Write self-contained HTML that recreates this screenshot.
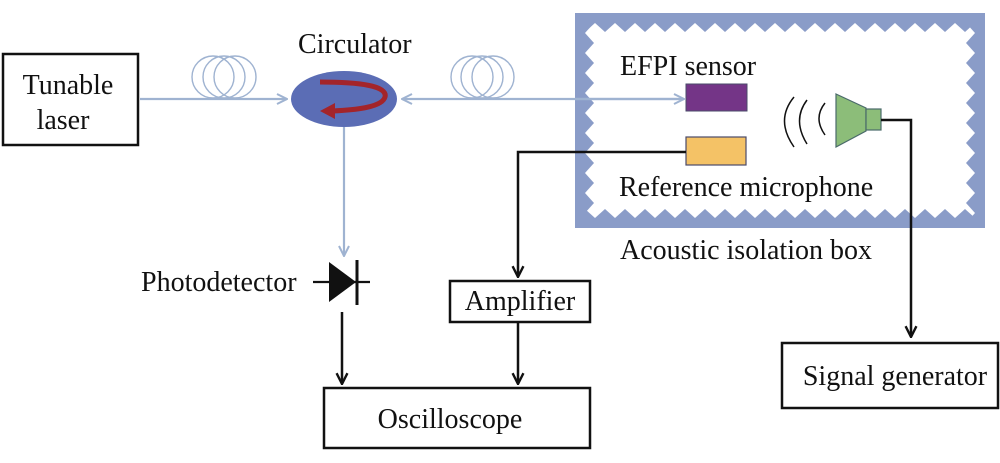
<!DOCTYPE html>
<html><head><meta charset="utf-8"><style>
html,body{margin:0;padding:0;background:#fff;}
svg{display:block;}
text{font-family:"Liberation Serif",serif;fill:#111;}
</style></head><body>
<svg width="1000" height="463" viewBox="0 0 1000 463" xmlns="http://www.w3.org/2000/svg">
<defs>
<pattern id="pt" x="575" y="23" width="20" height="9" patternUnits="userSpaceOnUse"><polygon points="0,0 20,0 10,9" fill="#8a9cc8"/></pattern>
<pattern id="pb" x="575" y="209" width="20" height="9" patternUnits="userSpaceOnUse"><polygon points="0,9 20,9 10,0" fill="#8a9cc8"/></pattern>
<pattern id="pl" x="585" y="13" width="9" height="20" patternUnits="userSpaceOnUse"><polygon points="0,0 0,20 9,10" fill="#8a9cc8"/></pattern>
<pattern id="pr" x="966" y="13" width="9" height="20" patternUnits="userSpaceOnUse"><polygon points="9,0 9,20 0,10" fill="#8a9cc8"/></pattern>
<marker id="ab" viewBox="0 0 12 12" refX="11" refY="6" markerWidth="12" markerHeight="12" markerUnits="userSpaceOnUse" orient="auto"><path d="M1,1 L11,6 L1,11" fill="none" stroke="#9fb3d1" stroke-width="2"/></marker>
<marker id="ak" viewBox="0 0 12 12" refX="11" refY="6" markerWidth="13" markerHeight="13" markerUnits="userSpaceOnUse" orient="auto"><path d="M1,1 L11,6 L1,11" fill="none" stroke="#111" stroke-width="2.2"/></marker>
</defs>

<rect x="575" y="13" width="410" height="215" fill="#8a9cc8"/>
<rect x="585" y="23" width="390" height="195" fill="#fff"/>
<rect x="585" y="23" width="390" height="9" fill="url(#pt)"/>
<rect x="585" y="209" width="390" height="9" fill="url(#pb)"/>
<rect x="585" y="23" width="9" height="195" fill="url(#pl)"/>
<rect x="966" y="23" width="9" height="195" fill="url(#pr)"/>

<rect x="3" y="54" width="135" height="91" fill="none" stroke="#111" stroke-width="2.5"/>
<text x="68" y="94" font-size="28" text-anchor="middle">Tunable</text>
<text x="63" y="129" font-size="28" text-anchor="middle">laser</text>

<line x1="140" y1="99" x2="287" y2="99" stroke="#9fb3d1" stroke-width="2.2" marker-end="url(#ab)"/>
<line x1="683" y1="99" x2="402" y2="99" stroke="#9fb3d1" stroke-width="2.2" marker-end="url(#ab)"/>
<line x1="575" y1="99" x2="684" y2="99" stroke="#9fb3d1" stroke-width="2.2" marker-end="url(#ab)"/>
<line x1="344" y1="127" x2="344" y2="256" stroke="#9fb3d1" stroke-width="2.2" marker-end="url(#ab)"/>

<g fill="none" stroke="#9fb3d1" stroke-width="1.4">
<ellipse cx="213" cy="77" rx="21" ry="21"/><ellipse cx="224" cy="77" rx="21" ry="21"/><ellipse cx="235" cy="77" rx="21" ry="21"/>
<ellipse cx="472" cy="77" rx="21" ry="21"/><ellipse cx="482" cy="77" rx="21" ry="21"/><ellipse cx="493" cy="77" rx="21" ry="21"/>
</g>

<text x="298" y="53" font-size="28">Circulator</text>
<ellipse cx="344" cy="99" rx="53" ry="28" fill="#5b6db5"/>
<path d="M320,82 C360,82 388,86 385,97 C382,108 352,110 333,111" fill="none" stroke="#a3242a" stroke-width="5"/>
<polygon points="320,111 335,103 335,119" fill="#a3242a"/>

<text x="620" y="75" font-size="28">EFPI sensor</text>
<rect x="686" y="84" width="61" height="27" fill="#743587" stroke="#4a4a6a" stroke-width="1"/>
<rect x="686" y="137" width="60" height="28" fill="#f4c266" stroke="#4a4a6a" stroke-width="1.2"/>
<text x="619" y="196" font-size="28">Reference microphone</text>
<text x="620" y="259" font-size="28">Acoustic isolation box</text>

<g fill="none" stroke="#111" stroke-width="1.5">
<path d="M794,97 Q775,120 794,147"/>
<path d="M807,100 Q792,120 807,144"/>
<path d="M825,103 Q813,118 825,135"/>
</g>
<polygon points="836,94 866,108 866,131 836,147" fill="#8cbd79" stroke="#4a6a6a" stroke-width="1.2"/>
<rect x="866" y="109" width="15" height="21" fill="#8cbd79" stroke="#4a6a6a" stroke-width="1.2"/>

<polyline points="686,152 518,152 518,277" fill="none" stroke="#111" stroke-width="2.5" marker-end="url(#ak)"/>
<polyline points="881,120 911,120 911,337" fill="none" stroke="#111" stroke-width="2.5" marker-end="url(#ak)"/>
<line x1="518" y1="322" x2="518" y2="384" stroke="#111" stroke-width="2.5" marker-end="url(#ak)"/>
<line x1="342" y1="312" x2="342" y2="384" stroke="#111" stroke-width="2.5" marker-end="url(#ak)"/>

<text x="141" y="291" font-size="28">Photodetector</text>
<line x1="313" y1="282" x2="370" y2="282" stroke="#111" stroke-width="2.2"/>
<polygon points="329,262 356,282 329,302" fill="#111"/>
<line x1="357" y1="260" x2="357" y2="305" stroke="#111" stroke-width="3"/>

<rect x="450" y="281" width="140" height="41" fill="none" stroke="#111" stroke-width="2.5"/>
<text x="520" y="310" font-size="28" text-anchor="middle">Amplifier</text>

<rect x="324" y="388" width="266" height="60" fill="none" stroke="#111" stroke-width="2.5"/>
<text x="450" y="428" font-size="28" text-anchor="middle">Oscilloscope</text>

<rect x="782" y="343" width="216" height="65" fill="none" stroke="#111" stroke-width="2.5"/>
<text x="895" y="385" font-size="28" text-anchor="middle">Signal generator</text>
</svg>
</body></html>
